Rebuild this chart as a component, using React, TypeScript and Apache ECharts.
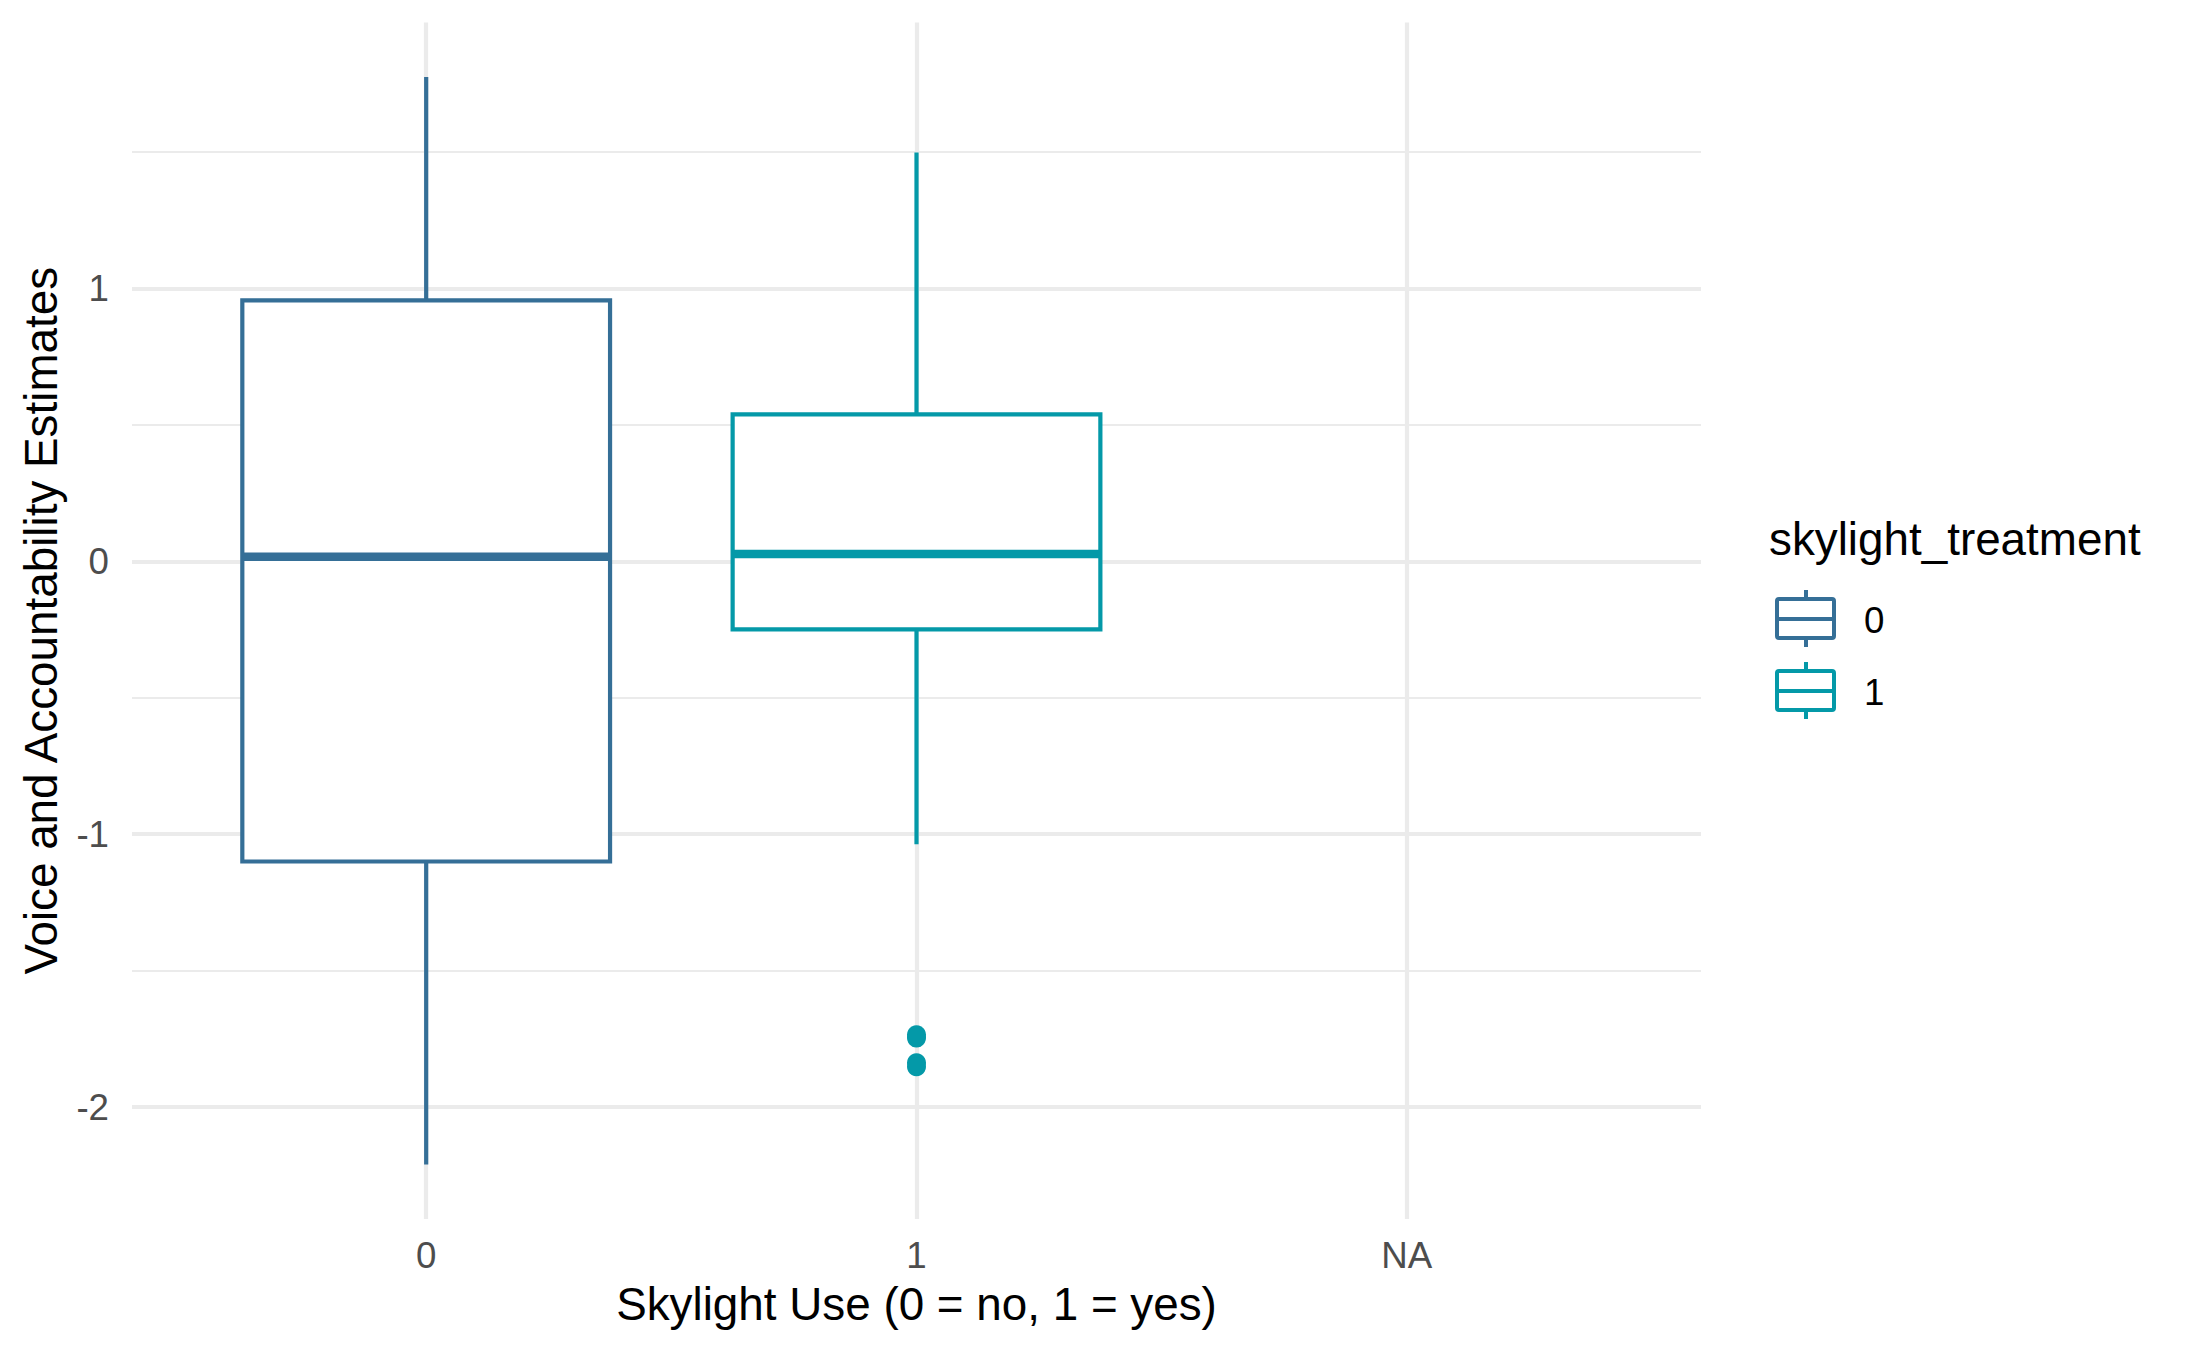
import React, { useEffect, useRef } from 'react';
import * as echarts from 'echarts';

// ---- data ----
const categories = ['0', '1', 'NA'];
const groups = ['0', '1'];
const groupColors = ['#356F97', '#0499A8'];
const boxCategoryIndex = [0, 1];
const lowerWhisker = [-2.211, -1.037];
const q1Values = [-1.1, -0.249];
const medianValues = [0.017, 0.027];
const q3Values = [0.957, 0.539];
const upperWhisker = [1.776, 1.499];
const outlierCategoryIndex = [1, 1, 1, 1];
const outlierValues = [-1.735, -1.747, -1.838, -1.852];
const yTicks = [-2, -1, 0, 1];
const yMinorTicks = [-1.5, -0.5, 0.5, 1.5];
const xTicks = [0, 1, 2];

const FONT = '"Liberation Sans", Arial, Helvetica, sans-serif';

export default function App() {
  const ref = useRef<HTMLDivElement>(null);

  useEffect(() => {
    if (!ref.current) return;
    const chart = echarts.init(ref.current, undefined, { renderer: 'svg' });

    const allY = [...lowerWhisker, ...upperWhisker, ...outlierValues];
    const lo = Math.min(...allY);
    const hi = Math.max(...allY);
    const pad = (hi - lo) * 0.05;
    const yMin = lo - pad;
    const yMax = hi + pad;
    const xMin = -0.6;
    const xMax = categories.length - 1 + 0.6;

    const boxData = boxCategoryIndex.map((x, i) => [
      x, lowerWhisker[i], q1Values[i], medianValues[i], q3Values[i], upperWhisker[i],
    ]);
    const outlierData = outlierValues.map((v, i) => [outlierCategoryIndex[i], v]);

    const gridColor = '#EBEBEB';

    const legendChildren: any[] = [
      {
        type: 'text',
        x: 1769,
        y: 539,
        style: {
          text: 'skylight_treatment',
          font: `45.8px ${FONT}`,
          fill: '#000',
          textVerticalAlign: 'middle',
          verticalAlign: 'middle',
        },
      },
    ];
    groups.forEach((g, i) => {
      const cy = 619 + i * 72;
      const c = groupColors[i];
      legendChildren.push(
        { type: 'line', shape: { x1: 1806, y1: cy - 29, x2: 1806, y2: cy - 20 }, style: { stroke: c, lineWidth: 4 } },
        { type: 'line', shape: { x1: 1806, y1: cy + 19, x2: 1806, y2: cy + 28 }, style: { stroke: c, lineWidth: 4 } },
        { type: 'rect', shape: { x: 1777, y: cy - 20, width: 57, height: 39, r: 2 }, style: { fill: '#fff', stroke: c, lineWidth: 4 } },
        { type: 'line', shape: { x1: 1777, y1: cy, x2: 1834, y2: cy }, style: { stroke: c, lineWidth: 4 } },
        {
          type: 'text',
          x: 1864,
          y: cy + 1,
          style: {
            text: g,
            font: `36.7px ${FONT}`,
            fill: '#000',
            verticalAlign: 'middle',
            textVerticalAlign: 'middle',
          },
        }
      );
    });

    const option: any = {
      animation: false,
      backgroundColor: '#fff',
      textStyle: { fontFamily: FONT },
      grid: { left: 132, right: 486, top: 22.5, bottom: 132, containLabel: false },
      xAxis: {
        type: 'value',
        min: xMin,
        max: xMax,
        name: 'Skylight Use (0 = no, 1 = yes)',
        nameLocation: 'middle',
        nameGap: 62,
        nameTextStyle: { fontSize: 45.8, color: '#000', fontFamily: FONT },
        axisLine: { show: false },
        axisTick: { show: false, customValues: xTicks },
        axisLabel: {
          customValues: xTicks,
          formatter: (v: number) => categories[Math.round(v)],
          fontSize: 36.7,
          color: '#4D4D4D',
          fontFamily: FONT,
          margin: 18,
        },
        splitLine: { show: true, lineStyle: { color: gridColor, width: 4.2 } },
      },
      yAxis: [
        {
          type: 'value',
          min: yMin,
          max: yMax,
          name: 'Voice and Accountability Estimates',
          nameLocation: 'middle',
          nameGap: 68,
          nameTextStyle: { fontSize: 45.8, color: '#000', fontFamily: FONT },
          axisLine: { show: false },
          axisTick: { show: false, customValues: yTicks },
          axisLabel: {
            customValues: yTicks,
            fontSize: 36.7,
            color: '#4D4D4D',
            fontFamily: FONT,
            margin: 23,
          },
          splitLine: { show: true, lineStyle: { color: gridColor, width: 4.2 } },
        },
        {
          type: 'value',
          min: yMin,
          max: yMax,
          position: 'right',
          axisLine: { show: false },
          axisTick: { show: false, customValues: yMinorTicks },
          axisLabel: { show: false, customValues: yMinorTicks },
          splitLine: { show: true, lineStyle: { color: gridColor, width: 2.1 } },
        },
      ],
      series: [
        {
          type: 'custom',
          name: 'box',
          xAxisIndex: 0,
          yAxisIndex: 0,
          encode: { x: 0, y: [1, 2, 3, 4, 5] },
          data: boxData,
          clip: false,
          z: 3,
          renderItem: (params: any, api: any) => {
            const x = api.value(0);
            const pLo = api.coord([x, api.value(1)]);
            const pQ1 = api.coord([x, api.value(2)]);
            const pMed = api.coord([x, api.value(3)]);
            const pQ3 = api.coord([x, api.value(4)]);
            const pHi = api.coord([x, api.value(5)]);
            const halfW = api.size([0.75, 0])[0] / 2;
            const color = groupColors[params.dataIndex];
            return {
              type: 'group',
              children: [
                { type: 'line', shape: { x1: pLo[0], y1: pLo[1], x2: pQ1[0], y2: pQ1[1] }, style: { stroke: color, lineWidth: 4.2 } },
                { type: 'line', shape: { x1: pQ3[0], y1: pQ3[1], x2: pHi[0], y2: pHi[1] }, style: { stroke: color, lineWidth: 4.2 } },
                {
                  type: 'rect',
                  shape: { x: pQ1[0] - halfW, y: pQ3[1], width: halfW * 2, height: pQ1[1] - pQ3[1] },
                  style: { fill: '#fff', stroke: color, lineWidth: 4.2 },
                },
                { type: 'line', shape: { x1: pMed[0] - halfW, y1: pMed[1], x2: pMed[0] + halfW, y2: pMed[1] }, style: { stroke: color, lineWidth: 8.5 } },
              ],
            };
          },
        },
        {
          type: 'scatter',
          name: 'outliers',
          xAxisIndex: 0,
          yAxisIndex: 0,
          data: outlierData,
          symbol: 'circle',
          symbolSize: 19,
          itemStyle: { color: groupColors[1], opacity: 1 },
          z: 4,
        },
      ],
      graphic: [{ type: 'group', children: legendChildren }],
    };

    chart.setOption(option);
    return () => chart.dispose();
  }, []);

  return (
    <div
      ref={ref}
      style={{ position: 'absolute', left: 0, top: 0, width: 2187, height: 1351, background: '#fff' }}
    />
  );
}
